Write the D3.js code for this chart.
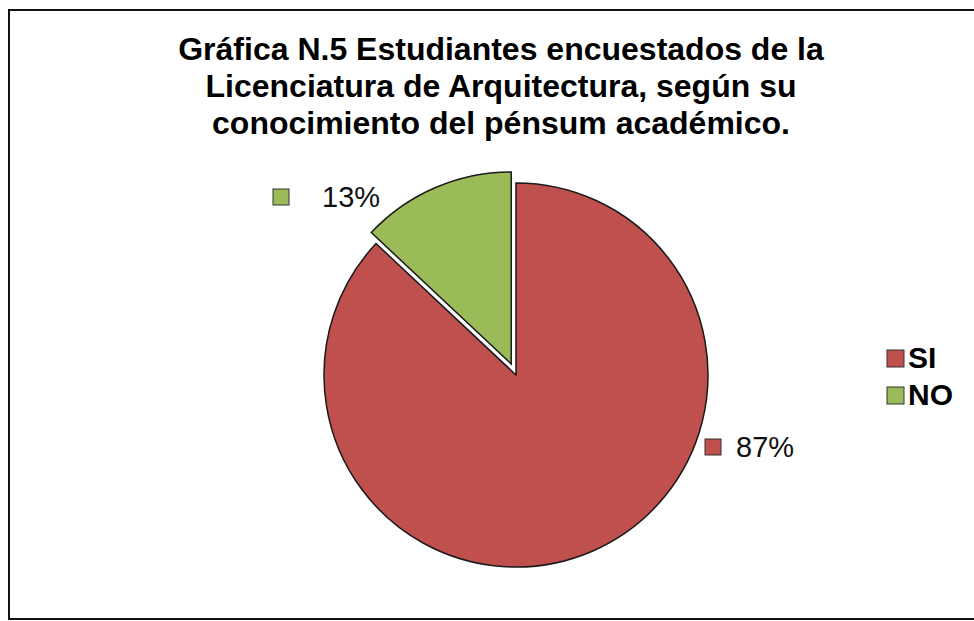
<!DOCTYPE html>
<html>
<head>
<meta charset="utf-8">
<script src="https://cdn.jsdelivr.net/npm/d3@7"></script>
<style>
  body { margin: 0; background: #fff; }
  text { font-family: "Liberation Sans", Arial, sans-serif; }
</style>
</head>
<body>
<script>
// data
var categories = ["SI", "NO"];
var values = [87, 13];
var colors = ["#C0504D", "#9BBB59"];
var titleLines = [
  "Gráfica N.5 Estudiantes encuestados de la",
  "Licenciatura de Arquitectura, según su",
  "conocimiento del pénsum académico."
];

var W = 974, H = 621;
var svg = d3.select("body").append("svg")
    .attr("width", W)
    .attr("height", H);

// chart border (runs off the right edge like the scan)
svg.append("rect")
    .attr("x", 9).attr("y", 10)
    .attr("width", W + 20).attr("height", 609)
    .attr("fill", "#fff")
    .attr("stroke", "#111")
    .attr("stroke-width", 2);

// title
svg.append("g").selectAll("text")
    .data(titleLines)
  .enter().append("text")
    .attr("x", 501)
    .attr("y", function(d, i){ return 60 + i * 37; })
    .attr("text-anchor", "middle")
    .style("font-size", "32px")
    .style("font-weight", "bold")
    .attr("fill", "#000")
    .text(function(d){ return d; });

var cx = 516, cy = 375, r = 192;
var explode = 12;

var pie = d3.pie().sort(null).startAngle(0).endAngle(2 * Math.PI);
var arcs = pie(values);
var arc = d3.arc().innerRadius(0).outerRadius(r);

var total = d3.sum(values);

var g = svg.append("g").attr("transform", "translate(" + cx + "," + cy + ")");

g.selectAll("path")
    .data(arcs)
  .enter().append("path")
    .attr("d", arc)
    .attr("fill", function(d, i){ return colors[i]; })
    .attr("stroke", "#1a1a1a")
    .attr("stroke-width", 1.5)
    .attr("stroke-linejoin", "miter")
    .attr("transform", function(d, i){
      if (i !== 1) return null;
      var a = (d.startAngle + d.endAngle) / 2;
      return "translate(" + (Math.sin(a) * explode) + "," + (-Math.cos(a) * explode) + ")";
    });

// data labels (Excel "best fit" spots: offset from centre, text gap after key)
var labelSpots = [[189, 82, 31], [-243, -168, 49]];

var lab = g.selectAll("g.lab")
    .data(arcs)
  .enter().append("g")
    .attr("class", "lab")
    .attr("transform", function(d, i){
      return "translate(" + labelSpots[i][0] + "," + labelSpots[i][1] + ")";
    });

lab.append("rect")
    .attr("x", 0).attr("y", -18)
    .attr("width", 16).attr("height", 16)
    .attr("fill", function(d, i){ return colors[i]; })
    .attr("stroke", "#333")
    .attr("stroke-width", 1);

lab.append("text")
    .attr("x", function(d, i){ return labelSpots[i][2]; })
    .attr("y", 0)
    .style("font-size", "29px")
    .attr("fill", "#111")
    .text(function(d){ return Math.round(d.value / total * 100) + "%"; });

// legend
var leg = svg.append("g").selectAll("g")
    .data(categories)
  .enter().append("g")
    .attr("transform", function(d, i){ return "translate(887," + (368 + i * 37) + ")"; });

leg.append("rect")
    .attr("x", 0).attr("y", -18)
    .attr("width", 17).attr("height", 17)
    .attr("fill", function(d, i){ return colors[i]; })
    .attr("stroke", "#333")
    .attr("stroke-width", 1);

leg.append("text")
    .attr("x", 21)
    .attr("y", 0)
    .style("font-size", "30px")
    .style("font-weight", "bold")
    .attr("fill", "#000")
    .text(function(d){ return d; });
</script>
</body>
</html>
